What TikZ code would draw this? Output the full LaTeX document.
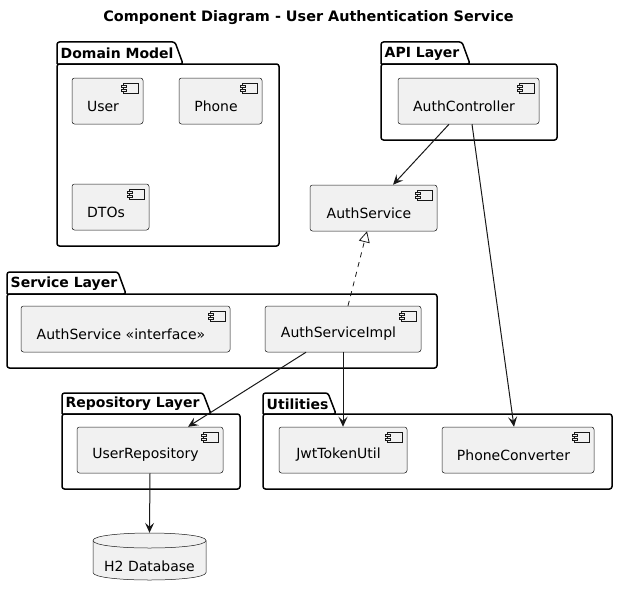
\documentclass[tikz,border=0pt]{standalone}
\usepackage{fontspec}
\setmainfont{DejaVu Sans}
\usetikzlibrary{arrows.meta}
\definecolor{cfill}{HTML}{F1F1F1}
\definecolor{cline}{HTML}{181818}
\tikzset{
  comp/.style={draw=cline, fill=cfill, line width=0.5pt, rounded corners=2.5pt,
    minimum height=46pt, inner sep=0pt,
    path picture={
      \coordinate (ne) at (path picture bounding box.north east);
      \draw[cline, line width=0.4pt, sharp corners, fill=cfill]
        ([shift={(-20pt,-5pt)}]ne) rectangle ([shift={(-5pt,-15pt)}]ne);
      \draw[cline, line width=0.4pt, sharp corners, fill=cfill]
        ([shift={(-22pt,-7pt)}]ne) rectangle ([shift={(-17pt,-9pt)}]ne);
      \draw[cline, line width=0.4pt, sharp corners, fill=cfill]
        ([shift={(-22pt,-11pt)}]ne) rectangle ([shift={(-17pt,-13pt)}]ne);
    }},
  ctext/.style={font=\fontsize{14}{16}\selectfont, xshift=-4.5pt, yshift=-5pt, inner sep=0pt},
  pkg/.style={draw=black, line width=1.5pt, rounded corners=2.5pt},
  pkglabel/.style={font=\fontsize{14}{16}\selectfont\bfseries, anchor=west, inner sep=0pt},
  dep/.style={draw=cline, line width=1pt, -{Stealth[length=10pt,width=9pt,inset=4pt]}},
  real/.style={draw=cline, line width=0.8pt, dash pattern=on 5pt off 5pt,
    -{Triangle[open, length=11pt, width=11pt, fill=white]}},
}
\newcommand{\pkgshape}[8]{%
  % #1 x0, #2 tab right top, #3 tab right bottom, #4 tab top, #5 body top, #6 x1, #7 body bottom, #8 label
  \draw[pkg] (#1,#5) -- (#1,#4) -- (#2,#4) -- (#3,#5) -- (#1,#5);
  \draw[pkg] (#1,#5) rectangle (#6,#7);
  \node[pkglabel] at (#1+3.5,{(#4+#5)/2+0.5}) {#8};
}
\begin{document}
\begin{tikzpicture}[x=1pt,y=-1pt]
\useasboundingbox (0,0) rectangle (617,594);
\node[font=\fontsize{14.4}{16}\selectfont\bfseries] (title) at (308.5,18) {Component Diagram - User Authentication Service};

% packages
\pkgshape{57}{175}{183}{42}{64}{279}{246}{Domain Model}
\pkgshape{381}{462}{470}{42}{64}{557}{140}{API Layer}
\pkgshape{7}{118}{126}{272}{294}{437}{368}{Service Layer}
\pkgshape{62}{203}{211}{393}{414}{240}{489}{Repository Layer}
\pkgshape{263}{328}{336}{393}{414}{612}{489}{Utilities}

% components
\node[comp, minimum width=71pt, label={[ctext]center:User}] (user) at (107.5,101) {};
\node[comp, minimum width=83pt, label={[ctext]center:Phone}] (phone) at (220.5,101) {};
\node[comp, minimum width=77pt, label={[ctext]center:DTOs}] (dtos) at (110.5,207) {};
\node[comp, minimum width=141pt, label={[ctext]center:AuthController}] (ctrl) at (468.5,101) {};
\node[comp, minimum width=127pt, label={[ctext]center:AuthService}] (authsvc) at (373.5,208) {};
\node[comp, minimum width=209pt, label={[ctext]center:AuthService «interface»}] (iface) at (125.5,329) {};
\node[comp, minimum width=156pt, label={[ctext]center:AuthServiceImpl}] (impl) at (343,329) {};
\node[comp, minimum width=146pt, label={[ctext]center:UserRepository}] (repo) at (150,450) {};
\node[comp, minimum width=128pt, label={[ctext]center:JwtTokenUtil}] (jwt) at (343,450) {};
\node[comp, minimum width=152pt, label={[ctext]center:PhoneConverter}] (pconv) at (518,450) {};

% database
\draw[cline, line width=0.5pt, fill=cfill]
  (93,540.5) .. controls (93,530.5) and (206,530.5) .. (206,540.5)
  -- (206,572.5) .. controls (206,582.5) and (93,582.5) .. (93,572.5) -- cycle;
\draw[cline, line width=0.5pt]
  (93,540.5) .. controls (93,550.5) and (206,550.5) .. (206,540.5);
\node[minimum width=113pt, minimum height=47pt, inner sep=0pt,
  label={[font=\fontsize{14}{16}\selectfont, inner sep=0pt, yshift=-10pt]center:H2 Database}] (db) at (149.5,556.5) {};

% connectors
\draw[dep] ([xshift=-19.5pt]ctrl.south) -- ([xshift=19.5pt]authsvc.north);
\draw[dep] ([xshift=3.5pt]ctrl.south) -- ([xshift=-4pt]pconv.north);
\draw[real] ([xshift=5pt]impl.north) -- ([xshift=-6.5pt]authsvc.south);
\draw[dep] ([xshift=-37pt]impl.south) -- ([xshift=38pt]repo.north);
\draw[dep] (impl.south) -- (jwt.north);
\draw[dep] (repo.south) -- (db.north);
\end{tikzpicture}
\end{document}
